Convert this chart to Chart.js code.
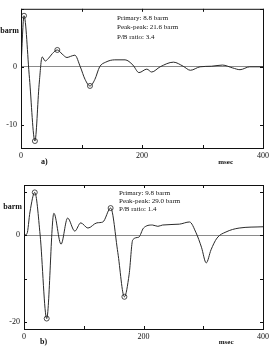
<!DOCTYPE html>
<html>
<head>
<meta charset="utf-8">
<script src="https://cdn.jsdelivr.net/npm/chart.js@4/dist/chart.umd.min.js"></script>
<style>
	html, body { margin: 0; padding: 0; background: #fff; }
	.panel { position: absolute; left: 0; }
	#chartA { top: 0; }
	#chartB { top: 175px; }
</style>
</head>
<body>
<canvas id="chartA" class="panel" width="272" height="175"></canvas>
<canvas id="chartB" class="panel" width="272" height="176"></canvas>
<script>
// panel a) signature, msec / barm
const timesA = [0, 5, 14, 23, 30, 35, 40, 45, 52, 60, 68, 76, 82, 89, 98, 106, 114, 122, 130, 140, 155, 172, 185, 195, 208, 216, 230, 252, 268, 280, 296, 315, 333, 350, 362, 378, 400];
const valuesA = [0, 8.8, -2, -12.8, -3, 1.7, 1.0, 1.4, 2.3, 2.9, 2.2, 1.6, 1.8, 2.0, 0, -2.2, -3.3, -2.2, 0, 0.8, 1.2, 1.2, 0.3, -1.0, -0.4, -0.9, 0, 0.8, 0.1, -0.6, 0, 0.1, 0.3, -0.2, -0.5, 0, 0];
const markedTimesA = [5, 23, 60, 114];
const markedValuesA = [8.8, -12.8, 2.9, -3.3];
const notesA = ['Primary: 8.8 barm', 'Peak-peak: 21.6 barm', 'P/B ratio: 3.4'];

// panel b)
const timesB = [0, 5, 10, 18, 27, 38, 50, 62, 73, 85, 95, 107, 122, 132, 145, 157, 168, 176, 182, 192, 200, 215, 224, 232, 260, 277, 288, 297, 305, 313, 323, 338, 360, 400];
const valuesB = [0, 0.3, 5.3, 9.8, 0, -19.2, 5.0, -2.1, 3.9, 0.9, 2.8, 1.6, 2.8, 3.0, 6.2, -4, -14.2, -9, -1.1, -0.5, 1.6, 2.3, 2.0, 2.3, 2.5, 3.0, 0.5, -2.8, -6.4, -3.4, -0.7, 0.7, 1.6, 1.9];
const markedTimesB = [18, 38, 145, 168];
const markedValuesB = [9.8, -19.2, 6.2, -14.2];
const notesB = ['Primary: 9.8 barm', 'Peak-peak: 29.0 barm', 'P/B ratio: 1.4'];

const xTicks = [0, 100, 200, 300, 400];
const xTickLabels = ['0', '', '200', '', '400'];
const yTicksA = [-10, 0, 10];
const yTickLabelsA = ['-10', '0', ''];
const yTicksB = [-20, -10, 0, 10];
const yTickLabelsB = ['-20', '', '0', ''];

const SERIF = '"Liberation Serif", "DejaVu Serif", serif';

const framePlugin = {
	id: 'frame',
	afterDraw(chart, args, opts) {
		const { ctx, chartArea: a, scales } = chart;
		const x = scales.x, y = scales.y;
		ctx.save();
		ctx.strokeStyle = '#111';
		ctx.lineWidth = 1;
		ctx.strokeRect(a.left + 0.5, a.top + 0.5, a.right - a.left, a.bottom - a.top);

		ctx.beginPath();
		xTicks.forEach((v) => {
			const px = Math.round(x.getPixelForValue(v)) + 0.5;
			ctx.moveTo(px, a.top);
			ctx.lineTo(px, a.top + 3);
			ctx.moveTo(px, a.bottom);
			ctx.lineTo(px, a.bottom - 3);
		});
		opts.yMarks.forEach((v) => {
			const py = Math.round(y.getPixelForValue(v)) + 0.5;
			ctx.moveTo(a.left, py);
			ctx.lineTo(a.left + 3, py);
			ctx.moveTo(a.right, py);
			ctx.lineTo(a.right - 3, py);
		});
		ctx.stroke();

		ctx.fillStyle = '#111';
		ctx.textBaseline = 'middle';
		ctx.textAlign = 'left';
		ctx.font = '7px ' + SERIF;
		opts.notes.forEach((t, i) => {
			ctx.fillText(t, a.left + opts.noteX, a.top + opts.noteY + i * opts.noteGap);
		});

		ctx.font = 'bold 8px ' + SERIF;
		ctx.textAlign = 'right';
		ctx.fillText('barm', a.left - 2, y.getPixelForValue(opts.unitAt));

		ctx.textAlign = 'left';
		ctx.fillText(opts.tag, a.left + opts.tagX, a.bottom + opts.tagDy);
		ctx.font = 'bold 7px ' + SERIF;
		ctx.fillText('msec', x.getPixelForValue(326), a.bottom + opts.tagDy);
		ctx.restore();
	},
};

function makePanel(id, times, values, markT, markV, yMin, yMax, yTicks, yLabels, pad, axisH, extra) {
	new Chart(document.getElementById(id), {
		type: 'line',
		data: {
			datasets: [
				{
					data: times.map((t, i) => ({ x: t, y: values[i] })),
					borderColor: '#2a2a2a',
					borderWidth: 1,
					pointRadius: 0,
					cubicInterpolationMode: 'monotone',
					fill: false,
				},
				{
					data: markT.map((t, i) => ({ x: t, y: markV[i] })),
					showLine: false,
					pointRadius: 2.5,
					pointBorderWidth: 0.8,
					pointBorderColor: '#222',
					pointBackgroundColor: 'rgba(255,255,255,0)',
				},
			],
		},
		options: {
			responsive: false,
			animation: false,
			layout: { padding: pad },
			plugins: {
				legend: { display: false },
				tooltip: { enabled: false },
				frame: Object.assign({ yMarks: yTicks }, extra),
			},
			scales: {
				x: {
					type: 'linear',
					min: 0,
					max: 400,
					afterBuildTicks: (s) => { s.ticks = xTicks.map((v) => ({ value: v })); },
					afterFit: (s) => { s.height = axisH; },
					grid: { display: false, drawTicks: false },
					border: { display: false },
					ticks: {
						autoSkip: false,
						maxRotation: 0,
						padding: 3,
						color: '#111',
						font: { size: 8, family: SERIF },
						callback: (v) => xTickLabels[xTicks.indexOf(v)],
					},
				},
				y: {
					min: yMin,
					max: yMax,
					afterBuildTicks: (s) => { s.ticks = yTicks.map((v) => ({ value: v })); },
					afterFit: (s) => { s.width = pad.yWidth; },
					grid: {
						drawTicks: false,
						lineWidth: 1,
						color: (c) => (c.tick && c.tick.value === 0 ? '#8a8a8a' : 'rgba(0,0,0,0)'),
					},
					border: { display: false },
					ticks: {
						autoSkip: false,
						padding: 4,
						color: '#111',
						font: { size: 8, family: SERIF },
						callback: (v) => yLabels[yTicks.indexOf(v)],
					},
				},
			},
		},
		plugins: [framePlugin],
	});
}

makePanel('chartA', timesA, valuesA, markedTimesA, markedValuesA, -14, 10, yTicksA, yTickLabelsA,
	{ left: 0, top: 4, right: 9, bottom: 0, yWidth: 21 }, 27,
	{ notes: notesA, noteX: 96, noteY: 9, noteGap: 9.5, unitAt: 6.2, tag: 'a)', tagX: 20, tagDy: 14 });

makePanel('chartB', timesB, valuesB, markedTimesB, markedValuesB, -21.6, 11.5, yTicksB, yTickLabelsB,
	{ left: 0, top: 10, right: 8, bottom: 0, yWidth: 24 }, 22,
	{ notes: notesB, noteX: 95, noteY: 8, noteGap: 8.2, unitAt: 6.4, tag: 'b)', tagX: 16, tagDy: 13 });
</script>
</body>
</html>
